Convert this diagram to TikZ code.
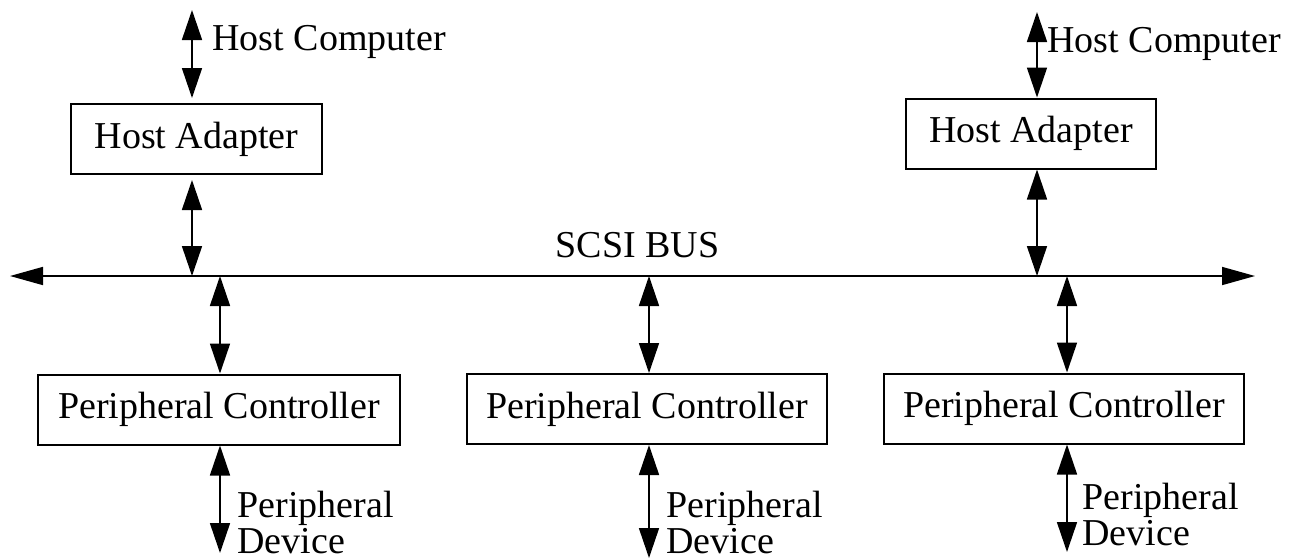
\documentclass[tikz,border=0pt]{standalone}
\usepackage{fontspec}
\setmainfont{Liberation Serif}
\usetikzlibrary{arrows.meta}
\begin{document}
\begin{tikzpicture}[x=0.5pt,y=-0.5pt,
  every node/.style={font=\fontsize{19}{16.5}\selectfont, inner sep=0pt},
  box/.style={draw, line width=1pt, minimum width=#1, minimum height=35pt},
  lbl/.style={anchor=base west, align=left},
  link/.style={line width=0.8pt, {Triangle[length=15pt,width=10pt]}-{Triangle[length=15pt,width=10pt]}},
  buslink/.style={line width=0.8pt, {Triangle[length=16.5pt,width=9pt]}-{Triangle[length=16.5pt,width=9pt]}}]
  \useasboundingbox (0,0) rectangle (1298,559);

  % boxes
  \node[box=125.5pt] (ha1) at (196.5,139) {Host Adapter};
  \node[box=125pt]   (ha2) at (1031,133.5) {Host Adapter};
  \node[box=181pt]   (pc1) at (219,409.5) {Peripheral Controller};
  \node[box=180pt]   (pc2) at (647,409) {Peripheral Controller};
  \node[box=180pt]   (pc3) at (1064,408.5) {Peripheral Controller};

  % labels (multi-line labels sit on the baseline of their last line)
  \node[lbl] (hc1) at (212,50) {Host Computer};
  \node[lbl] (hc2) at (1047,52) {Host Computer};
  \node[anchor=base] (bus) at (637.5,257) {SCSI BUS};
  \node[lbl] (pd1) at (237,553) {Peripheral\\Device};
  \node[lbl] (pd2) at (666,553) {Peripheral\\Device};
  \node[lbl] (pd3) at (1082,545) {Peripheral\\Device};

  % bus and its taps
  \coordinate (busL) at (10,276);
  \coordinate (busR) at (1255,276);
  \draw[buslink] (busL) -- (busR);
  \coordinate (tA) at (192,276);
  \coordinate (tB) at (1037,276);
  \coordinate (t1) at (220,276);
  \coordinate (t2) at (649,276);
  \coordinate (t3) at (1067,276);

  % host side
  \coordinate (hA) at (192,10);
  \coordinate (hB) at (1037,12);
  \draw[link, shorten >=2.5pt] (hA) -- (hA |- ha1.north);
  \draw[link, shorten <=2.5pt] (tA |- ha1.south) -- (tA);
  \draw[link] (hB) -- (hB |- ha2.north);
  \draw[link] (tB |- ha2.south) -- (tB);

  % peripheral side
  \draw[link] (t1) -- (t1 |- pc1.north);
  \draw[link] (t2) -- (t2 |- pc2.north);
  \draw[link] (t3) -- (t3 |- pc3.north);
  \coordinate (d1) at (220,553);
  \coordinate (d2) at (649,558);
  \coordinate (d3) at (1067,552);
  \draw[link] (d1 |- pc1.south) -- (d1);
  \draw[link] (d2 |- pc2.south) -- (d2);
  \draw[link] (d3 |- pc3.south) -- (d3);
\end{tikzpicture}
\end{document}
